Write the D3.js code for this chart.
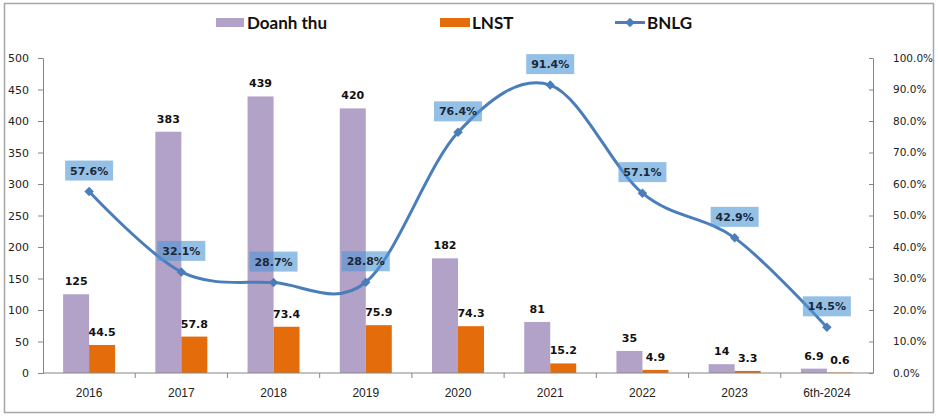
<!DOCTYPE html>
<html><head><meta charset="utf-8">
<script src="https://cdn.jsdelivr.net/npm/d3@7"></script>
<style>body{margin:0;background:#fff}svg{display:block}</style>
</head><body>
<svg id="c" width="938" height="419"></svg>
<script>
const categories = ["2016","2017","2018","2019","2020","2021","2022","2023","6th-2024"];
const doanhThu = [125,383,439,420,182,81,35,14,6.9];
const lnst = [44.5,57.8,73.4,75.9,74.3,15.2,4.9,3.3,0.6];
const bnlg = [57.6,32.1,28.7,28.8,76.4,91.4,57.1,42.9,14.5];
const leftTicks = [0,50,100,150,200,250,300,350,400,450,500];
const rightTicks = [0,10,20,30,40,50,60,70,80,90,100];
const dtLabels = ["125","383","439","420","182","81","35","14","6.9"];
const lnLabels = ["44.5","57.8","73.4","75.9","74.3","15.2","4.9","3.3","0.6"];
const bnLabels = ["57.6%","32.1%","28.7%","28.8%","76.4%","91.4%","57.1%","42.9%","14.5%"];

const svg = d3.select("#c");
const L = 43, R = 873, T = 58, B = 373;
const x = d3.scaleBand().domain(categories).range([L, R]);
const yL = d3.scaleLinear().domain([0,500]).range([B, T]);
const yR = d3.scaleLinear().domain([0,100]).range([B, T]);
const purple = "#B3A2C7", orange = "#E46C0A", blue = "#4A7EBB", axisC = "#868686";
const tickFont = "DejaVu Sans, Verdana, sans-serif";

// outer border
svg.append("rect").attr("x",4.5).attr("y",3.5).attr("width",929).attr("height",409)
  .attr("fill","none").attr("stroke","#a6a6a6").attr("stroke-width",1.5);

// left axis
const gl = svg.append("g").attr("transform",`translate(${L},0)`)
  .call(d3.axisLeft(yL).tickValues(leftTicks).tickSize(5).tickPadding(9).tickFormat(d3.format("d")));
gl.select(".domain").attr("stroke",axisC);
gl.selectAll(".tick line").attr("stroke",axisC);
gl.selectAll("text").attr("font-family",tickFont).attr("font-size","11px").attr("fill","#222");

// right axis
const gr = svg.append("g").attr("transform",`translate(${R},0)`)
  .call(d3.axisRight(yR).tickValues(rightTicks).tickSizeInner(-4).tickSizeOuter(0).tickPadding(20)
    .tickFormat(d => d.toFixed(1) + "%"));
gr.select(".domain").attr("stroke",axisC);
gr.selectAll(".tick line").attr("stroke",axisC);
gr.selectAll("text").attr("font-family",tickFont).attr("font-size","10.5px").attr("fill","#222");

// bars
const bw = 26;
const bars = svg.append("g");
bars.selectAll(".dt").data(categories).join("rect")
  .attr("x", (d) => x(d) + x.bandwidth()/2 - bw)
  .attr("y", (d,i) => yL(doanhThu[i]))
  .attr("width", bw).attr("height", (d,i) => B - yL(doanhThu[i])).attr("fill", purple);
bars.selectAll(".ln").data(categories).join("rect")
  .attr("x", (d) => x(d) + x.bandwidth()/2)
  .attr("y", (d,i) => yL(lnst[i]))
  .attr("width", bw).attr("height", (d,i) => B - yL(lnst[i])).attr("fill", orange);

// bottom axis
const gb = svg.append("g").attr("transform",`translate(0,${B})`);
gb.append("line").attr("x1",L).attr("x2",R).attr("stroke",axisC);
categories.forEach((c,i) => {
  if (i > 0) gb.append("line").attr("x1",x(c)).attr("x2",x(c)).attr("y1",0).attr("y2",5).attr("stroke",axisC);
  gb.append("text").attr("x", x(c)+x.bandwidth()/2).attr("y", 24).attr("text-anchor","middle")
    .attr("font-family","Liberation Sans Narrow, Liberation Sans, sans-serif").attr("font-size","12px").attr("fill","#222").text(c);
});

// bar labels
const lblFont = "DejaVu Sans, Verdana, sans-serif";
svg.append("g").selectAll("text").data(categories).join("text")
  .attr("x", d => x(d) + x.bandwidth()/2 - bw/2)
  .attr("y", (d,i) => yL(doanhThu[i]) - 9)
  .attr("text-anchor","middle").attr("font-family",lblFont).attr("font-weight","bold")
  .attr("font-size","11px").attr("fill","#111").text((d,i) => dtLabels[i]);
svg.append("g").selectAll("text").data(categories).join("text")
  .attr("x", d => x(d) + x.bandwidth()/2 + bw/2)
  .attr("y", (d,i) => yL(lnst[i]) - 9)
  .attr("text-anchor","middle").attr("font-family",lblFont).attr("font-weight","bold")
  .attr("font-size","11px").attr("fill","#111").text((d,i) => lnLabels[i]);

// line
const pts = categories.map((c,i) => [x(c)+x.bandwidth()/2, yR(bnlg[i])]);
svg.append("path").attr("d", d3.line().curve(d3.curveCardinal.tension(0))(pts))
  .attr("fill","none").attr("stroke",blue).attr("stroke-width",3);
svg.append("g").selectAll("path").data(pts).join("path")
  .attr("d", d3.symbol().type(d3.symbolSquare).size(45)).attr("transform", d => `translate(${d[0]},${d[1]}) rotate(45)`)
  .attr("fill", blue);

// line labels (semi-transparent boxes)
const lg = svg.append("g");
pts.forEach((p,i) => {
  const cy = p[1] - 21;
  lg.append("rect").attr("x", p[0]-24).attr("y", cy-10).attr("width",48).attr("height",20)
    .attr("fill","rgb(78,150,213)").attr("fill-opacity",0.6);
  lg.append("text").attr("x", p[0]).attr("y", cy+4).attr("text-anchor","middle")
    .attr("font-family",lblFont).attr("font-weight","bold").attr("font-size","11px").attr("fill","#1b2838").text(bnLabels[i]);
});

// legend
const legFont = "Lato, Open Sans, sans-serif";
const leg = svg.append("g");
leg.append("rect").attr("x",216).attr("y",18).attr("width",28).attr("height",9).attr("fill",purple);
leg.append("text").attr("x",247).attr("y",29).attr("font-family",legFont).attr("font-weight","bold").attr("font-size","17px").attr("fill","#111").text("Doanh thu");
leg.append("rect").attr("x",440).attr("y",18).attr("width",30).attr("height",9).attr("fill",orange);
leg.append("text").attr("x",472).attr("y",29).attr("font-family",legFont).attr("font-weight","bold").attr("font-size","17px").attr("fill","#111").text("LNST");
leg.append("line").attr("x1",615).attr("x2",645).attr("y1",22.5).attr("y2",22.5).attr("stroke",blue).attr("stroke-width",3);
leg.append("path").attr("d", d3.symbol().type(d3.symbolSquare).size(45)).attr("transform","translate(630,22.5) rotate(45)").attr("fill",blue);
leg.append("text").attr("x",647).attr("y",29).attr("font-family",legFont).attr("font-weight","bold").attr("font-size","17px").attr("fill","#111").text("BNLG");
</script>
</body></html>
